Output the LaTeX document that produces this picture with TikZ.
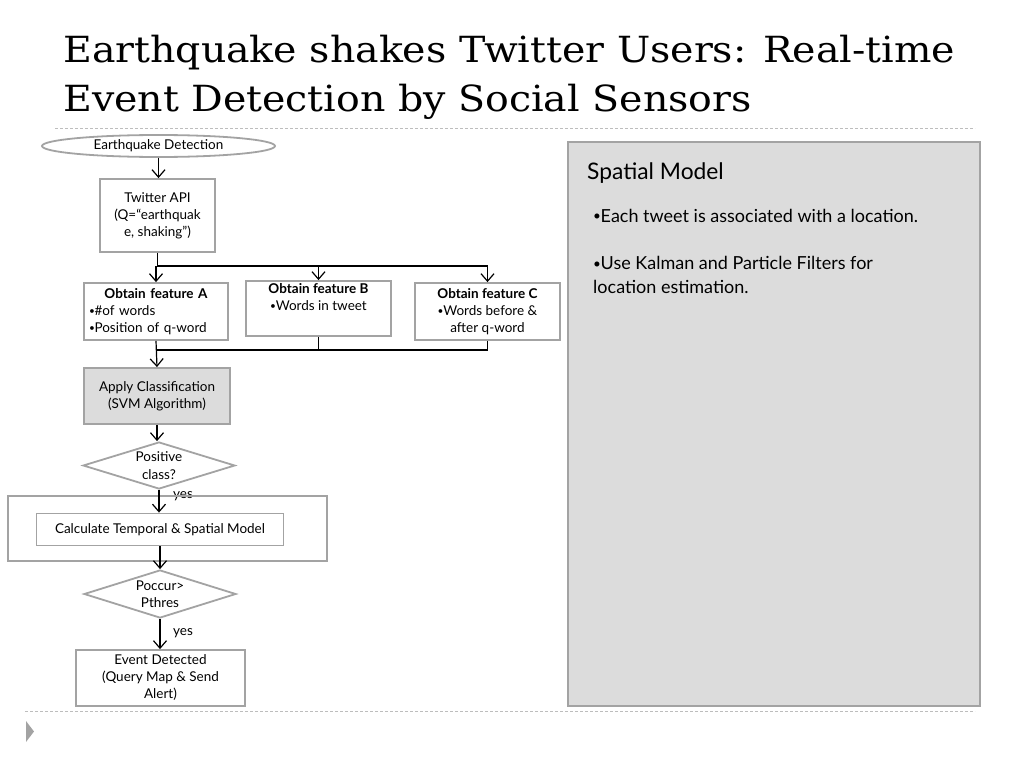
\documentclass[tikz,border=0pt]{standalone}
\usepackage{fontspec}
\setmainfont{DejaVu Serif}
\newfontfamily\titlefont[FakeStretch=1.097]{DejaVu Serif}
\newfontfamily\gill{Lato}
\usetikzlibrary{arrows.meta,shapes.geometric}
\definecolor{boxline}{HTML}{A3A3A3}
\definecolor{boxfill}{HTML}{DCDCDC}
\definecolor{dashgray}{HTML}{BDBDBD}
\newcommand{\bul}{\raisebox{0.08em}{\scalebox{0.75}{•}}\kern-0.3pt}
\tikzset{
  box/.style={draw=boxline,line width=1.8pt,fill=white,inner sep=2pt,align=center,font=\gill\fontsize{13.5}{17}\selectfont},
  dec/.style={draw=boxline,line width=1.8pt,fill=white,shape=diamond,inner sep=0pt},
  arr/.style={line width=1.2pt,-{Straight Barb[length=7.5pt,width=13pt,line width=1.2pt]}},
  conn/.style={line width=1.2pt},
  lbl/.style={font=\gill\fontsize{13.5}{14}\selectfont,inner sep=0pt},
  sep/.style={draw=dashgray,line width=0.8pt,dash pattern=on 3pt off 2pt},
}
\begin{document}
\begin{tikzpicture}[x=1pt,y=-1pt]
\useasboundingbox (0,0) rectangle (1024,768);
% title
\node[anchor=base west,inner sep=0pt,font=\titlefont\fontsize{36}{48}\selectfont] (title1) at (63,63) {Earthquake shakes Twitter Users: Real-time};
\node[anchor=base west,inner sep=0pt,font=\titlefont\fontsize{36}{48}\selectfont] (title2) at (63,111) {Event Detection by Social Sensors};
% separators
\draw[sep] (55,128) coordinate (s1) -- (975,128) coordinate (s2);
\draw[sep] (25,711) coordinate (s3) -- (975,711) coordinate (s4);
\fill[boxline] (26,721) coordinate (t1) -- (26,742) -- (34,731.5) -- cycle;
% right panel
\node[draw=boxline,line width=1.8pt,fill=boxfill,minimum width=412pt,minimum height=564pt,inner sep=0pt] (panel) at (774,424) {};
\node[anchor=base west,inner sep=0pt,font=\gill\fontsize{22.8}{24}\selectfont] (ptitle) at (587,179) {Spatial Model};
\node[anchor=base west,inner sep=0pt,font=\gill\fontsize{18}{24}\selectfont] (pb1) at (593,222) {\bul Each tweet is associated with a location.};
\node[anchor=north west,inner sep=0pt,align=left,font=\gill\fontsize{18}{24}\selectfont] (pb2) at (593,256) {\bul Use Kalman and Particle Filters for\\location estimation.};
% flowchart
\node[draw=boxline,line width=1.8pt,fill=white,ellipse,minimum width=233pt,minimum height=22pt,inner sep=0pt,font=\gill\fontsize{13.5}{14}\selectfont] (start) at (158.5,146) {Earthquake Detection};
\node[box,minimum width=115pt,minimum height=73pt] (tw) at (157.5,215.5) {Twitter API\\(Q=“earthquak\\e, shaking”)};
\node[box,minimum width=144pt,minimum height=57pt,text width=134pt,align=left] (fa) at (156,311.5) {{\centering\textbf{Obtain feature A}\par}\bul\#of words\\\bul Position of q-word};
\node[box,minimum width=145pt,minimum height=55pt] (fb) at (318.5,308.5) {\textbf{Obtain feature B}\\\bul Words in tweet\\\strut};
\node[box,minimum width=145pt,minimum height=57pt] (fc) at (487.5,311.5) {\textbf{Obtain feature C}\\\bul Words before \&\\after q-word};
\node[box,fill=boxfill,minimum width=146pt,minimum height=56pt] (apply) at (157,396) {Apply Classification\\(SVM Algorithm)};
\node[dec,minimum width=152pt,minimum height=47pt,label={[lbl,align=center,font=\gill\fontsize{13.5}{17.5}\selectfont]center:Positive\\class?}] (pos) at (159,465.5) {};
\node[lbl] (yes1) at (183,496) {yes};
\node[draw=boxline,line width=1.8pt,minimum width=319pt,minimum height=65pt,inner sep=0pt] (outer) at (167.5,528.5) {};
\node[box,minimum width=247pt,minimum height=32pt] (calc) at (160,529.5) {Calculate Temporal \& Spatial Model};
\node[dec,minimum width=152pt,minimum height=48pt,label={[lbl,align=center,font=\gill\fontsize{13.5}{17.5}\selectfont]center:Poccur>\\Pthres}] (occ) at (160,594) {};
\node[box,minimum width=169pt,minimum height=56pt] (event) at (160.5,678) {Event Detected\\(Query Map \& Send\\Alert)};
\node[lbl] (yes2) at (183,633) {yes};
% connectors
\coordinate (split) at (157,266);
\coordinate (merge) at (157,350);
\draw[arr] (start.south) -- (start.south|-tw.north);
\draw[conn] (tw.south) -- (tw.south|-split) -- (fc.north|-split);
\draw[arr] (fa.north|-split) -- (fa.north);
\draw[arr] (fb.north|-split) -- (fb.north);
\draw[arr] (fc.north|-split) -- (fc.north);
\draw[conn] (fb.south) -- (fb.south|-merge);
\draw[conn] (fc.south) -- (fc.south|-merge) -- (fa.south|-merge);
\draw[arr] (fa.south) -- (apply.north);
\draw[arr] (apply.south) -- (apply.south|-pos.north);
\draw[arr] (pos.south) -- (pos.south|-calc.north);
\draw[arr] (calc.south) -- (calc.south|-occ.north);
\draw[arr] (occ.south) -- (occ.south|-event.north);
\end{tikzpicture}
\end{document}
